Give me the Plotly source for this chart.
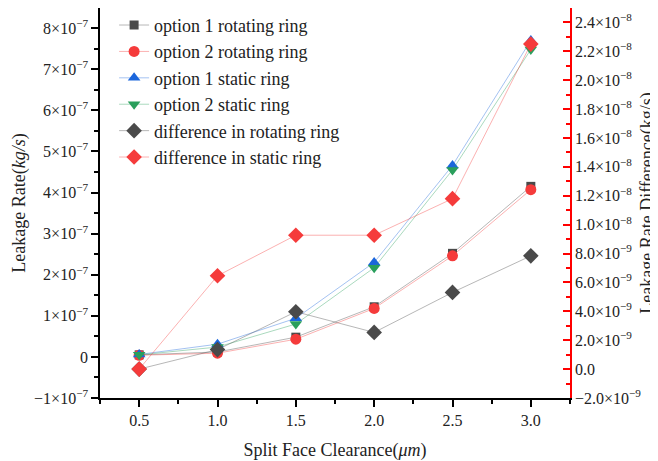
import plotly.graph_objects as go

x = [0.5, 1.0, 1.5, 2.0, 2.5, 3.0]
opt1_rot = [0.5e-8, 1.2e-8, 4.8e-8, 1.22e-7, 2.52e-7, 4.15e-7]
opt2_rot = [0.4e-8, 0.9e-8, 4.3e-8, 1.18e-7, 2.46e-7, 4.07e-7]
opt1_sta = [0.6e-8, 3.1e-8, 9.4e-8, 2.30e-7, 4.66e-7, 7.70e-7]
opt2_sta = [0.5e-8, 2.4e-8, 8.0e-8, 2.17e-7, 4.55e-7, 7.48e-7]
diff_rot = [0.0, 1.35e-9, 3.97e-9, 2.54e-9, 5.31e-9, 7.84e-9]
diff_sta = [0.0, 6.46e-9, 9.27e-9, 9.27e-9, 11.8e-9, 22.5e-9]

x_ticks = [0.5, 1.0, 1.5, 2.0, 2.5, 3.0]
x_labels = ["0.5", "1.0", "1.5", "2.0", "2.5", "3.0"]
y_ticks = [-1e-7, 0, 1e-7, 2e-7, 3e-7, 4e-7, 5e-7, 6e-7, 7e-7, 8e-7]
y_labels = ["−1×10<sup>−7</sup>", "0", "1×10<sup>−7</sup>", "2×10<sup>−7</sup>",
            "3×10<sup>−7</sup>", "4×10<sup>−7</sup>", "5×10<sup>−7</sup>",
            "6×10<sup>−7</sup>", "7×10<sup>−7</sup>", "8×10<sup>−7</sup>"]
y2_ticks = [-2e-9, 0, 2e-9, 4e-9, 6e-9, 8e-9, 1.0e-8, 1.2e-8, 1.4e-8,
            1.6e-8, 1.8e-8, 2.0e-8, 2.2e-8, 2.4e-8]
y2_labels = ["−2.0×10<sup>−9</sup>", "0.0", "2.0×10<sup>−9</sup>", "4.0×10<sup>−9</sup>",
             "6.0×10<sup>−9</sup>", "8.0×10<sup>−9</sup>", "1.0×10<sup>−8</sup>",
             "1.2×10<sup>−8</sup>", "1.4×10<sup>−8</sup>", "1.6×10<sup>−8</sup>",
             "1.8×10<sup>−8</sup>", "2.0×10<sup>−8</sup>", "2.2×10<sup>−8</sup>",
             "2.4×10<sup>−8</sup>"]

FONT = "Liberation Serif, Times New Roman, serif"
GRAY = "#4a4a4a"
RED = "#f53b3b"
BLUE = "#1b66dc"
GREEN = "#2a9f5c"

fig = go.Figure()

def add(name, y, color, linecolor, symbol, size, yaxis="y"):
    fig.add_trace(go.Scatter(
        x=x, y=y, name=name, mode="lines+markers", yaxis=yaxis,
        line=dict(color=linecolor, width=1),
        marker=dict(symbol=symbol, size=size, color=color, line=dict(width=0)),
    ))

add("option 1 rotating ring", opt1_rot, GRAY, "rgba(74,74,74,0.4)", "square", 9)
add("option 2 rotating ring", opt2_rot, RED, "rgba(245,59,59,0.4)", "circle", 11)
add("option 1 static ring", opt1_sta, BLUE, "rgba(27,102,220,0.4)", "triangle-up", 11)
add("option 2 static ring", opt2_sta, GREEN, "rgba(42,159,92,0.4)", "triangle-down", 11)
add("difference in rotating ring", diff_rot, GRAY, "rgba(74,74,74,0.4)", "diamond", 12, "y2")
add("difference in static ring", diff_sta, RED, "rgba(245,59,59,0.4)", "diamond", 12, "y2")

fig.update_layout(
    width=650, height=453,
    margin=dict(l=92, r=88, t=0, b=63, autoexpand=False),
    paper_bgcolor="white", plot_bgcolor="white",
    font=dict(family=FONT, size=16, color="#222"),
    showlegend=True,
    legend=dict(x=0.03, y=1.003, xanchor="left", yanchor="top",
                bgcolor="rgba(0,0,0,0)", font=dict(family=FONT, size=18, color="#222"),
                itemwidth=30, tracegroupgap=0),
    xaxis=dict(range=[0.25, 3.25], tickvals=x_ticks, ticktext=x_labels, automargin=False,
               showgrid=False, zeroline=False, showline=True, linecolor="black", linewidth=1.5,
               ticks="outside", ticklen=7, tickcolor="black", tickwidth=1.5,
               minor=dict(dtick=0.25, ticks="outside", ticklen=4, tickcolor="black", tickwidth=1.5),
               title=dict(text="Split Face Clearance(<i>μm</i>)", font=dict(size=18), standoff=16),
               tickfont=dict(size=16)),
    xaxis2=dict(overlaying="x", matches="x", side="top", range=[0.25, 3.25], automargin=False,
                tickvals=x_ticks, showticklabels=False, showgrid=False, zeroline=False,
                showline=True, linecolor="black", linewidth=1.5,
                ticks="inside", ticklen=7, tickcolor="black", tickwidth=1.5,
                minor=dict(dtick=0.25, ticks="inside", ticklen=4, tickcolor="black", tickwidth=1.5)),
    yaxis=dict(range=[-1e-7, 8.49e-7], tickvals=y_ticks, ticktext=y_labels, automargin=False,
               showgrid=False, zeroline=False, showline=True, linecolor="black", linewidth=1.5,
               ticks="outside", ticklen=7, tickcolor="black", tickwidth=1.5,
               minor=dict(dtick=0.5e-7, tick0=0, ticks="outside", ticklen=4, tickcolor="black", tickwidth=1.5),
               title=dict(text="Leakage Rate(<i>kg/s</i>)", font=dict(size=18), standoff=4),
               tickfont=dict(size=16)),
    yaxis2=dict(overlaying="y", side="right", range=[-2e-9, 2.50e-8], automargin=False,
                tickvals=y2_ticks, ticktext=y2_labels,
                showgrid=False, zeroline=False, showline=True, linecolor="red", linewidth=1.5,
                ticks="inside", ticklen=7, tickcolor="red", tickwidth=1.5,
                minor=dict(dtick=1e-9, tick0=0, ticks="inside", ticklen=4, tickcolor="red", tickwidth=1.5),
                title=dict(text="Leakage Rate Difference(kg/s)", font=dict(size=18), standoff=13),
                tickfont=dict(size=16)),
)

fig.write_html("out.html")
